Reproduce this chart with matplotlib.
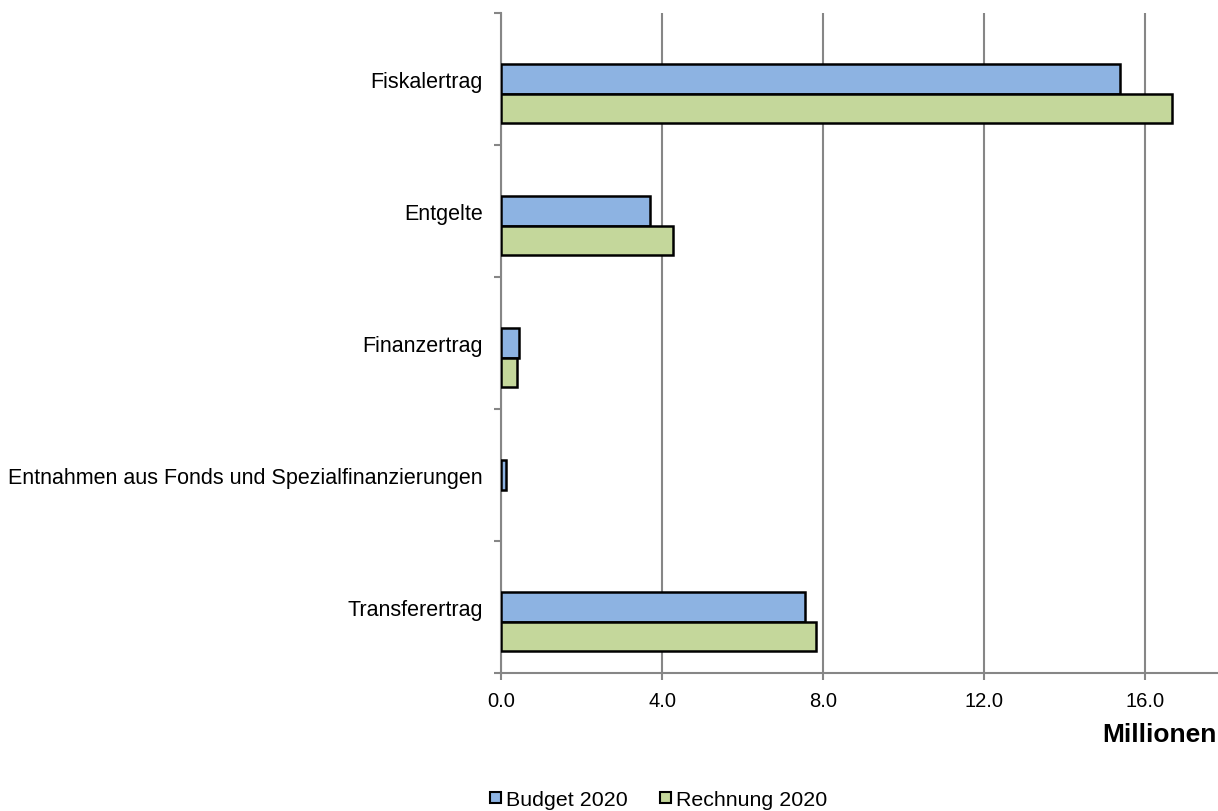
import matplotlib.pyplot as plt
import numpy as np

plt.rcParams['font.family'] = ['Liberation Sans', 'DejaVu Sans']

categories = ['Fiskalertrag', 'Entgelte', 'Finanzertrag',
              'Entnahmen aus Fonds und Spezialfinanzierungen', 'Transferertrag']
budget_2020 = [15.37, 3.70, 0.44, 0.12, 7.54]
rechnung_2020 = [16.67, 4.28, 0.40, 0.0, 7.83]
xticks = [0, 4, 8, 12, 16]

fig = plt.figure(figsize=(12.18, 8.12), dpi=100)
ax = fig.add_axes([501 / 1218, 1 - 674 / 812, 1 - 501 / 1218, (674 - 14) / 812])

pos = np.arange(len(categories))[::-1]
h = 0.221

# leere Werte ohne Rahmen zeichnen
def edges(vals):
    return ['black' if v > 0 else 'none' for v in vals]

ax.barh(pos, budget_2020, height=h, color='#8DB3E2', edgecolor=edges(budget_2020),
        linewidth=1.8, label='Budget 2020', zorder=3)
ax.barh(pos - h, rechnung_2020, height=h, color='#C4D79B', edgecolor=edges(rechnung_2020),
        linewidth=1.8, label='Rechnung 2020', zorder=3)

ax.set_xlim(0, 17.8)
ax.set_ylim(-0.5, len(categories) - 0.5)

ax.set_xticks(xticks)
ax.set_xticklabels([f'{v:.1f}' for v in xticks], fontsize=14.5)
ax.tick_params(axis='x', direction='out', length=5, width=1.5, color='#868686', pad=8)
ax.grid(axis='x', color='#868686', linewidth=1.5, zorder=0)

ax.set_yticks(pos)
ax.set_yticklabels(categories, fontsize=15.5)
ax.tick_params(axis='y', which='major', length=0, pad=13)
ax.set_yticks(np.arange(-0.5, len(categories), 1.0), minor=True)
ax.tick_params(axis='y', which='minor', direction='out', length=5, width=1.5, color='#868686')

for s in ['top', 'right']:
    ax.spines[s].set_visible(False)
for s in ['left', 'bottom']:
    ax.spines[s].set_color('#868686')
    ax.spines[s].set_linewidth(1.5)

fig.text(1217 / 1218, 1 - 735 / 812, 'Millionen', ha='right', va='center',
         fontsize=19, fontweight='bold')

leg = fig.legend(loc='center', bbox_to_anchor=(659 / 1218, 1 - 801 / 812), ncol=2,
                 frameon=False, fontsize=15.4, handlelength=0.5, handleheight=0.4,
                 handletextpad=0.25, columnspacing=1.5)
for p in leg.get_patches():
    p.set_edgecolor('black')
    p.set_linewidth(1.5)

fig.savefig('out.png', dpi=100)
